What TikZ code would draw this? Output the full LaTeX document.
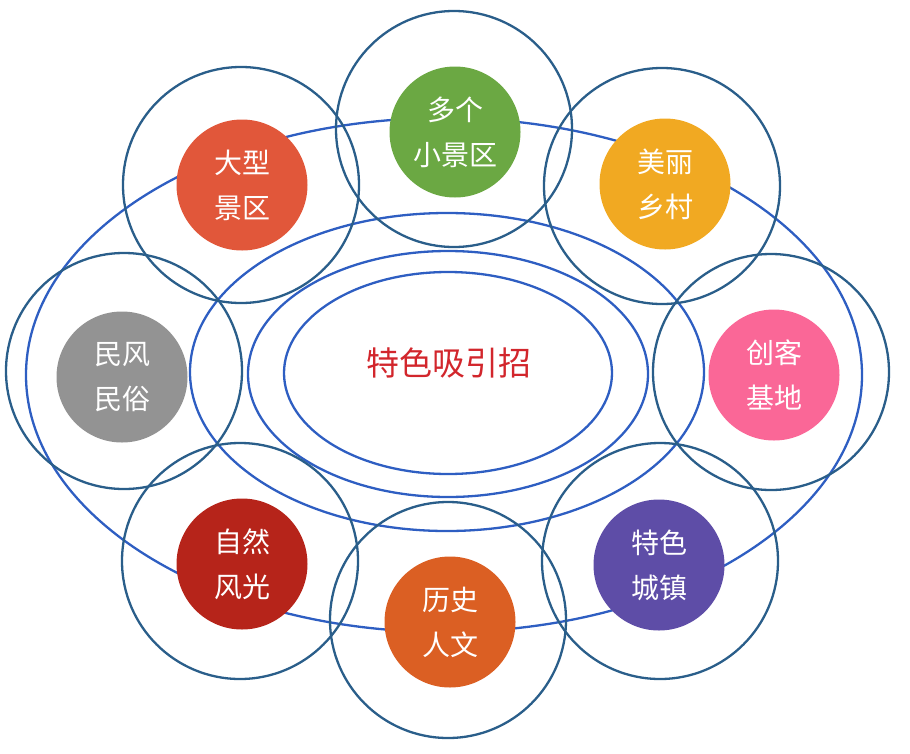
\documentclass[tikz,border=0pt]{standalone}
\usepackage{fontspec}
\setmainfont{Noto Sans CJK SC}
\usetikzlibrary{positioning}

\definecolor{ringblue}{HTML}{2A5E8A}
\definecolor{ovalblue}{HTML}{2E5EC2}
\definecolor{titlered}{HTML}{D2262C}
\definecolor{cgreen}{HTML}{6BA843}
\definecolor{cvermil}{HTML}{E1573A}
\definecolor{camber}{HTML}{F1A922}
\definecolor{cgrey}{HTML}{939393}
\definecolor{cpink}{HTML}{FA6797}
\definecolor{cmaroon}{HTML}{B6241A}
\definecolor{corange}{HTML}{DB5F23}
\definecolor{cviolet}{HTML}{5E4DA7}

\tikzset{
  oval/.style={draw=ovalblue, line width=2.3pt},
  ring/.style={circle, draw=ringblue, line width=2.3pt, minimum size=236pt, inner sep=0pt},
  blob/.style={circle, minimum size=131pt, inner sep=0pt, text=white, align=center,
    font=\fontsize{28}{45}\selectfont},
}

\begin{document}
\begin{tikzpicture}[x=1pt, y=-1pt]
  \useasboundingbox (0, 0) rectangle (910, 753);
  % ellipses round the centre
  \draw [oval] (444, 375) ellipse [x radius=418, y radius=257];
  \draw [oval] (447, 372) ellipse [x radius=257, y radius=159];
  \draw [oval] (448, 374) ellipse [x radius=200, y radius=123];
  \draw [oval] (448, 373) ellipse [x radius=164, y radius=101];
  % outer rings
  \node [ring] (top ring) at (454, 129) {};
  \node [ring] (topleft ring) at (241, 185) {};
  \node [ring] (topright ring) at (662, 186) {};
  \node [ring] (left ring) at (124, 371) {};
  \node [ring] (right ring) at (771, 372) {};
  \node [ring] (botleft ring) at (240, 561) {};
  \node [ring] (bottom ring) at (448, 620) {};
  \node [ring] (botright ring) at (660, 561) {};
  % coloured discs
  \node [blob, fill=cgreen] (smallsites) at (455, 132) {多个\\小景区};
  \node [blob, fill=cvermil] (bigsite) at (242, 185) {大型\\景区};
  \node [blob, fill=camber] (village) at (665, 184) {美丽\\乡村};
  \node [blob, fill=cgrey] (folk) at (122, 377) {民风\\民俗};
  \node [blob, fill=cpink] (maker) at (774, 375) {创客\\基地};
  \node [blob, fill=cmaroon] (scenery) at (242, 564) {自然\\风光};
  \node [blob, fill=corange] (history) at (450, 622) {历史\\人文};
  \node [blob, fill=cviolet] (town) at (659, 565) {特色\\城镇};
  % centre label
  \node [text=titlered, font=\fontsize{33}{40}\selectfont] (title) at (449, 363) {特色吸引招};
\end{tikzpicture}
\end{document}
